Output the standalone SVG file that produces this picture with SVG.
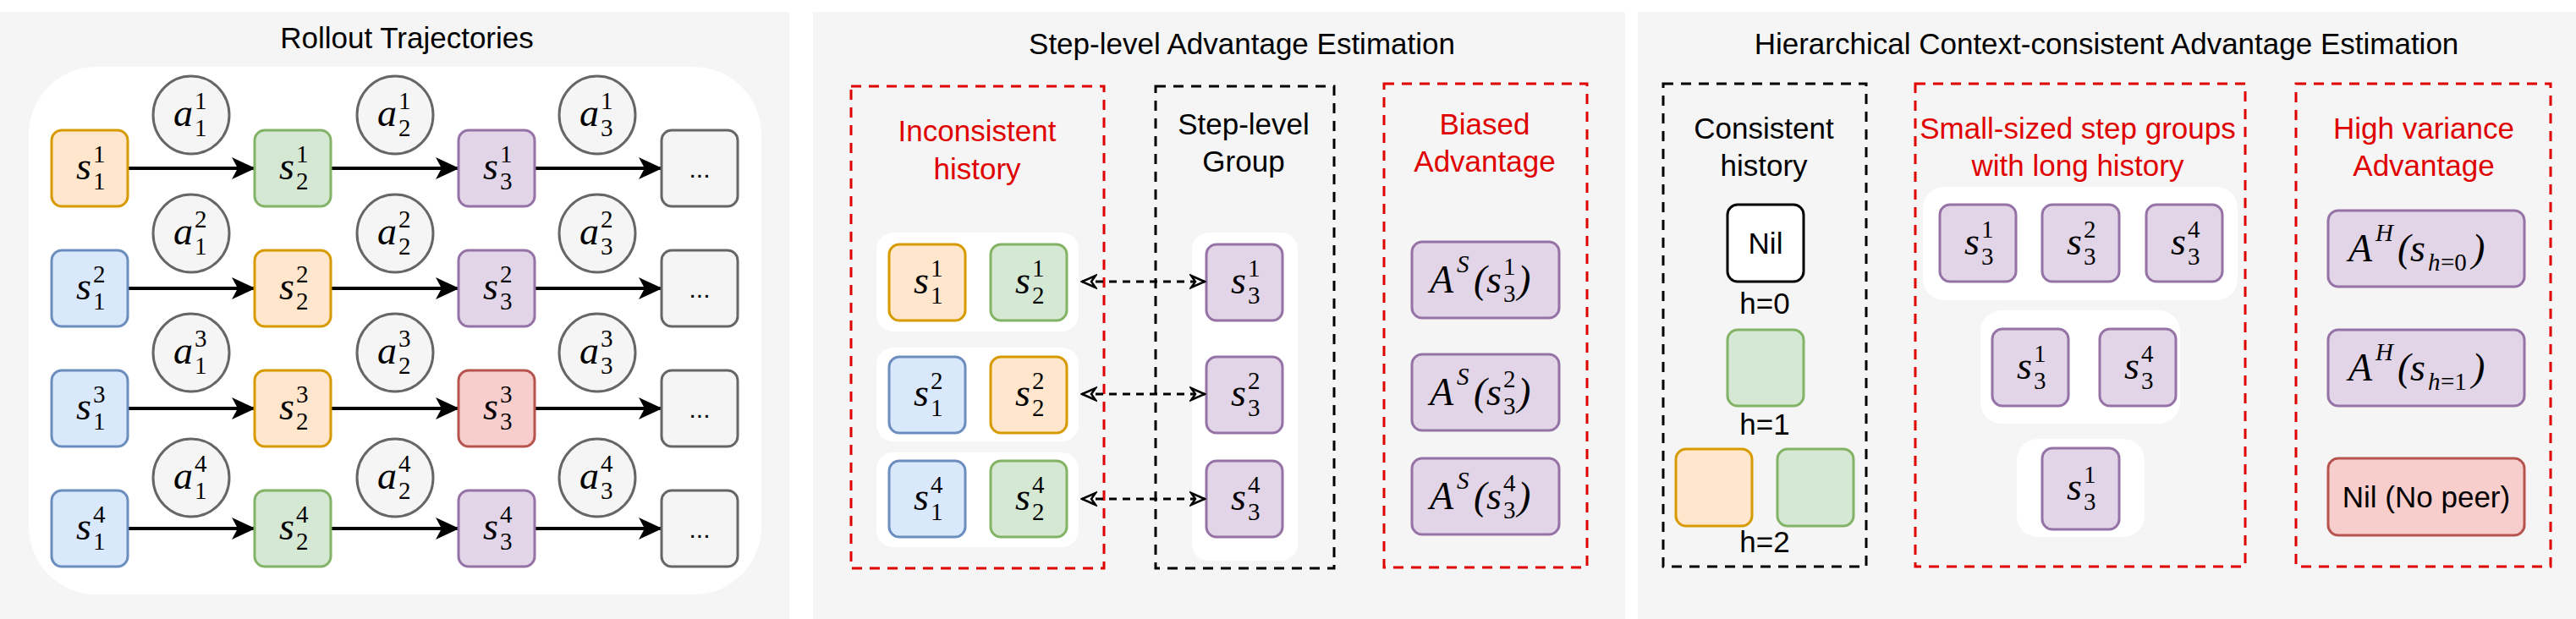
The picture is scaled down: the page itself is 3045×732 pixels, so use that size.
<svg xmlns="http://www.w3.org/2000/svg" width="3045" height="732" viewBox="0 0 3045 732">
<style>
.panel{fill:#f5f5f5}
.t{font-family:"Liberation Sans",Arial,sans-serif;font-size:35px;fill:#000;text-anchor:middle}
.r{fill:#e00000}
.m{font-family:"Liberation Serif","DejaVu Serif",serif;font-style:italic;font-size:46px;fill:#000}
.sc{font-family:"Liberation Serif","DejaVu Serif",serif;font-size:29px;fill:#000}
.b{stroke-width:3;rx:12}
.or{fill:#ffe6cc;stroke:#d79b00}.gr{fill:#d5e8d4;stroke:#82b366}.bl{fill:#dae8fc;stroke:#6c8ebf}
.pu{fill:#e1d5e7;stroke:#9673a6}.rd{fill:#f8cecc;stroke:#b85450}.gy{fill:#f5f5f5;stroke:#666}
.wh{fill:#fff}
.dr{fill:none;stroke:#e00000;stroke-width:3;stroke-dasharray:12 9}
.dk{fill:none;stroke:#000;stroke-width:3;stroke-dasharray:12 9}
.arr{stroke:#000;stroke-width:4;fill:none}
.da{stroke:#000;stroke-width:3;fill:none;stroke-dasharray:9 7}
</style>
<defs>
<marker id="ah" viewBox="0 0 28 28" refX="27" refY="14" markerWidth="28" markerHeight="28" markerUnits="userSpaceOnUse" orient="auto">
<path d="M0,1 L28,14 L0,27 L7,14 Z" fill="#000"/>
</marker>
<marker id="oa" viewBox="0 0 20 20" refX="18" refY="10" markerWidth="20" markerHeight="20" markerUnits="userSpaceOnUse" orient="auto-start-reverse">
<path d="M2,3 L18,10 L2,17 L7,10 Z" fill="#fff" stroke="#000" stroke-width="2.5"/>
</marker>
</defs>
<rect class="panel" x="0" y="14" width="933" height="718"/>
<rect class="panel" x="961" y="14" width="960" height="718"/>
<rect class="panel" x="1936" y="14" width="1109" height="718"/>
<text class="t" x="481" y="57">Rollout Trajectories</text>
<text class="t" x="1468" y="64">Step-level Advantage Estimation</text>
<text class="t" x="2490" y="64">Hierarchical Context-consistent Advantage Estimation</text>
<rect x="34" y="79" width="866" height="624" rx="80" fill="#fff"/>
<g id="connectors">
<line class="arr" x1="151" y1="199" x2="301" y2="199" marker-end="url(#ah)"/>
<line class="arr" x1="391" y1="199" x2="542" y2="199" marker-end="url(#ah)"/>
<line class="arr" x1="631" y1="199" x2="782" y2="199" marker-end="url(#ah)"/>
<line class="arr" x1="151" y1="341" x2="301" y2="341" marker-end="url(#ah)"/>
<line class="arr" x1="391" y1="341" x2="542" y2="341" marker-end="url(#ah)"/>
<line class="arr" x1="631" y1="341" x2="782" y2="341" marker-end="url(#ah)"/>
<line class="arr" x1="151" y1="483" x2="301" y2="483" marker-end="url(#ah)"/>
<line class="arr" x1="391" y1="483" x2="542" y2="483" marker-end="url(#ah)"/>
<line class="arr" x1="631" y1="483" x2="782" y2="483" marker-end="url(#ah)"/>
<line class="arr" x1="151" y1="625" x2="301" y2="625" marker-end="url(#ah)"/>
<line class="arr" x1="391" y1="625" x2="542" y2="625" marker-end="url(#ah)"/>
<line class="arr" x1="631" y1="625" x2="782" y2="625" marker-end="url(#ah)"/>
</g>
<!-- panel 1 states -->
<g id="s11r1"><rect class="b or" x="61" y="154" width="90" height="90"/><text class="m" x="108" y="212" text-anchor="end">s</text><text class="sc" x="110" y="192">1</text><text class="sc" x="110" y="224">1</text></g>
<g id="s12r1"><rect class="b gr" x="301" y="154" width="90" height="90"/><text class="m" x="348" y="212" text-anchor="end">s</text><text class="sc" x="350" y="192">1</text><text class="sc" x="350" y="224">2</text></g>
<g id="s13r1"><rect class="b pu" x="542" y="154" width="90" height="90"/><text class="m" x="589" y="212" text-anchor="end">s</text><text class="sc" x="591" y="192">1</text><text class="sc" x="591" y="224">3</text></g>
<g id="d1"><rect class="b gy" x="782" y="154" width="90" height="90"/><text class="t" x="827" y="210" style="font-size:30px">...</text></g>
<g id="s21r2"><rect class="b bl" x="61" y="296" width="90" height="90"/><text class="m" x="108" y="354" text-anchor="end">s</text><text class="sc" x="110" y="334">2</text><text class="sc" x="110" y="366">1</text></g>
<g id="s22r2"><rect class="b or" x="301" y="296" width="90" height="90"/><text class="m" x="348" y="354" text-anchor="end">s</text><text class="sc" x="350" y="334">2</text><text class="sc" x="350" y="366">2</text></g>
<g id="s23r2"><rect class="b pu" x="542" y="296" width="90" height="90"/><text class="m" x="589" y="354" text-anchor="end">s</text><text class="sc" x="591" y="334">2</text><text class="sc" x="591" y="366">3</text></g>
<g id="d2"><rect class="b gy" x="782" y="296" width="90" height="90"/><text class="t" x="827" y="352" style="font-size:30px">...</text></g>
<g id="s31r3"><rect class="b bl" x="61" y="438" width="90" height="90"/><text class="m" x="108" y="496" text-anchor="end">s</text><text class="sc" x="110" y="476">3</text><text class="sc" x="110" y="508">1</text></g>
<g id="s32r3"><rect class="b or" x="301" y="438" width="90" height="90"/><text class="m" x="348" y="496" text-anchor="end">s</text><text class="sc" x="350" y="476">3</text><text class="sc" x="350" y="508">2</text></g>
<g id="s33r3"><rect class="b rd" x="542" y="438" width="90" height="90"/><text class="m" x="589" y="496" text-anchor="end">s</text><text class="sc" x="591" y="476">3</text><text class="sc" x="591" y="508">3</text></g>
<g id="d3"><rect class="b gy" x="782" y="438" width="90" height="90"/><text class="t" x="827" y="494" style="font-size:30px">...</text></g>
<g id="s41r4"><rect class="b bl" x="61" y="580" width="90" height="90"/><text class="m" x="108" y="638" text-anchor="end">s</text><text class="sc" x="110" y="618">4</text><text class="sc" x="110" y="650">1</text></g>
<g id="s42r4"><rect class="b gr" x="301" y="580" width="90" height="90"/><text class="m" x="348" y="638" text-anchor="end">s</text><text class="sc" x="350" y="618">4</text><text class="sc" x="350" y="650">2</text></g>
<g id="s43r4"><rect class="b pu" x="542" y="580" width="90" height="90"/><text class="m" x="589" y="638" text-anchor="end">s</text><text class="sc" x="591" y="618">4</text><text class="sc" x="591" y="650">3</text></g>
<g id="d4"><rect class="b gy" x="782" y="580" width="90" height="90"/><text class="t" x="827" y="636" style="font-size:30px">...</text></g>
<!-- actions -->
<g id="a11"><ellipse cx="226" cy="136" rx="45" ry="46" fill="#f5f5f5" stroke="#666" stroke-width="3"/><text class="m" x="228" y="149" text-anchor="end">a</text><text class="sc" x="230" y="129">1</text><text class="sc" x="230" y="161">1</text></g>
<g id="a21"><ellipse cx="467" cy="136" rx="45" ry="46" fill="#f5f5f5" stroke="#666" stroke-width="3"/><text class="m" x="469" y="149" text-anchor="end">a</text><text class="sc" x="471" y="129">1</text><text class="sc" x="471" y="161">2</text></g>
<g id="a31"><ellipse cx="706" cy="136" rx="45" ry="46" fill="#f5f5f5" stroke="#666" stroke-width="3"/><text class="m" x="708" y="149" text-anchor="end">a</text><text class="sc" x="710" y="129">1</text><text class="sc" x="710" y="161">3</text></g>
<g id="a12"><ellipse cx="226" cy="276" rx="45" ry="46" fill="#f5f5f5" stroke="#666" stroke-width="3"/><text class="m" x="228" y="289" text-anchor="end">a</text><text class="sc" x="230" y="269">2</text><text class="sc" x="230" y="301">1</text></g>
<g id="a22"><ellipse cx="467" cy="276" rx="45" ry="46" fill="#f5f5f5" stroke="#666" stroke-width="3"/><text class="m" x="469" y="289" text-anchor="end">a</text><text class="sc" x="471" y="269">2</text><text class="sc" x="471" y="301">2</text></g>
<g id="a32"><ellipse cx="706" cy="276" rx="45" ry="46" fill="#f5f5f5" stroke="#666" stroke-width="3"/><text class="m" x="708" y="289" text-anchor="end">a</text><text class="sc" x="710" y="269">2</text><text class="sc" x="710" y="301">3</text></g>
<g id="a13"><ellipse cx="226" cy="417" rx="45" ry="46" fill="#f5f5f5" stroke="#666" stroke-width="3"/><text class="m" x="228" y="430" text-anchor="end">a</text><text class="sc" x="230" y="410">3</text><text class="sc" x="230" y="442">1</text></g>
<g id="a23"><ellipse cx="467" cy="417" rx="45" ry="46" fill="#f5f5f5" stroke="#666" stroke-width="3"/><text class="m" x="469" y="430" text-anchor="end">a</text><text class="sc" x="471" y="410">3</text><text class="sc" x="471" y="442">2</text></g>
<g id="a33"><ellipse cx="706" cy="417" rx="45" ry="46" fill="#f5f5f5" stroke="#666" stroke-width="3"/><text class="m" x="708" y="430" text-anchor="end">a</text><text class="sc" x="710" y="410">3</text><text class="sc" x="710" y="442">3</text></g>
<g id="a14"><ellipse cx="226" cy="565" rx="45" ry="46" fill="#f5f5f5" stroke="#666" stroke-width="3"/><text class="m" x="228" y="578" text-anchor="end">a</text><text class="sc" x="230" y="558">4</text><text class="sc" x="230" y="590">1</text></g>
<g id="a24"><ellipse cx="467" cy="565" rx="45" ry="46" fill="#f5f5f5" stroke="#666" stroke-width="3"/><text class="m" x="469" y="578" text-anchor="end">a</text><text class="sc" x="471" y="558">4</text><text class="sc" x="471" y="590">2</text></g>
<g id="a34"><ellipse cx="706" cy="565" rx="45" ry="46" fill="#f5f5f5" stroke="#666" stroke-width="3"/><text class="m" x="708" y="578" text-anchor="end">a</text><text class="sc" x="710" y="558">4</text><text class="sc" x="710" y="590">3</text></g>

<!-- panel 2 -->
<g id="inconsistent">
<rect class="wh" x="1036" y="275" width="239" height="117" rx="20"/>
<rect class="wh" x="1036" y="411" width="239" height="111" rx="20"/>
<rect class="wh" x="1036" y="535" width="239" height="112" rx="20"/>
<rect class="dr" x="1006" y="102" width="299" height="570"/>
<text class="t r" x="1155" y="167">Inconsistent</text>
<text class="t r" x="1155" y="212">history</text>
</g>
<g id="p2s11"><rect class="b or" x="1051" y="289" width="90" height="90"/><text class="m" x="1098" y="347" text-anchor="end">s</text><text class="sc" x="1100" y="327">1</text><text class="sc" x="1100" y="359">1</text></g>
<g id="p2s12"><rect class="b gr" x="1171" y="289" width="90" height="90"/><text class="m" x="1218" y="347" text-anchor="end">s</text><text class="sc" x="1220" y="327">1</text><text class="sc" x="1220" y="359">2</text></g>
<g id="p2s21"><rect class="b bl" x="1051" y="422" width="90" height="90"/><text class="m" x="1098" y="480" text-anchor="end">s</text><text class="sc" x="1100" y="460">2</text><text class="sc" x="1100" y="492">1</text></g>
<g id="p2s22"><rect class="b or" x="1171" y="422" width="90" height="90"/><text class="m" x="1218" y="480" text-anchor="end">s</text><text class="sc" x="1220" y="460">2</text><text class="sc" x="1220" y="492">2</text></g>
<g id="p2s41"><rect class="b bl" x="1051" y="545" width="90" height="90"/><text class="m" x="1098" y="603" text-anchor="end">s</text><text class="sc" x="1100" y="583">4</text><text class="sc" x="1100" y="615">1</text></g>
<g id="p2s42"><rect class="b gr" x="1171" y="545" width="90" height="90"/><text class="m" x="1218" y="603" text-anchor="end">s</text><text class="sc" x="1220" y="583">4</text><text class="sc" x="1220" y="615">2</text></g>
<g id="steplevel">
<rect class="wh" x="1409" y="275" width="125" height="388" rx="20"/>
<rect class="dk" x="1366" y="102" width="211" height="570"/>
<text class="t" x="1470" y="159">Step-level</text>
<text class="t" x="1470" y="203">Group</text>
</g>
<g id="p2s31"><rect class="b pu" x="1426" y="289" width="90" height="90"/><text class="m" x="1473" y="347" text-anchor="end">s</text><text class="sc" x="1475" y="327">1</text><text class="sc" x="1475" y="359">3</text></g>
<g id="p2s32"><rect class="b pu" x="1426" y="422" width="90" height="90"/><text class="m" x="1473" y="480" text-anchor="end">s</text><text class="sc" x="1475" y="460">2</text><text class="sc" x="1475" y="492">3</text></g>
<g id="p2s34"><rect class="b pu" x="1426" y="545" width="90" height="90"/><text class="m" x="1473" y="603" text-anchor="end">s</text><text class="sc" x="1475" y="583">4</text><text class="sc" x="1475" y="615">3</text></g>
<g id="connectors2">
<line class="da" x1="1279" y1="333" x2="1424" y2="333" marker-start="url(#oa)" marker-end="url(#oa)"/>
<line class="da" x1="1279" y1="466" x2="1424" y2="466" marker-start="url(#oa)" marker-end="url(#oa)"/>
<line class="da" x1="1279" y1="590" x2="1424" y2="590" marker-start="url(#oa)" marker-end="url(#oa)"/>
</g>
<g id="biased">
<rect class="dr" x="1636" y="99" width="240" height="572"/>
<text class="t r" x="1755" y="159">Biased</text>
<text class="t r" x="1755" y="203">Advantage</text>
</g>
<g id="as1"><rect class="b pu" x="1669" y="286" width="174" height="90"/><text class="m" x="1690" y="346">A</text><text class="sc" x="1722" y="322" font-style="italic">S</text><text class="m" x="1742" y="346" font-style="normal">(</text><text class="m" x="1757" y="346">s</text><text class="sc" x="1777" y="325">1</text><text class="sc" x="1777" y="357">3</text><text class="m" x="1794" y="346" font-style="normal">)</text></g>
<g id="as2"><rect class="b pu" x="1669" y="419" width="174" height="90"/><text class="m" x="1690" y="479">A</text><text class="sc" x="1722" y="455" font-style="italic">S</text><text class="m" x="1742" y="479" font-style="normal">(</text><text class="m" x="1757" y="479">s</text><text class="sc" x="1777" y="458">2</text><text class="sc" x="1777" y="490">3</text><text class="m" x="1794" y="479" font-style="normal">)</text></g>
<g id="as4"><rect class="b pu" x="1669" y="542" width="174" height="90"/><text class="m" x="1690" y="602">A</text><text class="sc" x="1722" y="578" font-style="italic">S</text><text class="m" x="1742" y="602" font-style="normal">(</text><text class="m" x="1757" y="602">s</text><text class="sc" x="1777" y="581">4</text><text class="sc" x="1777" y="613">3</text><text class="m" x="1794" y="602" font-style="normal">)</text></g>

<!-- panel 3 -->
<g id="consistent">
<rect class="dk" x="1966" y="99" width="240" height="571"/>
<text class="t" x="2085" y="164">Consistent</text>
<text class="t" x="2085" y="208">history</text>
<text class="t" x="2086" y="371">h=0</text>
<text class="t" x="2086" y="514">h=1</text>
<text class="t" x="2086" y="653">h=2</text>
</g>
<g id="nil"><rect class="b" x="2042" y="242" width="90" height="91" fill="#fff" stroke="#000"/><text class="t" x="2087" y="300">Nil</text></g>
<g id="h1g"><rect class="b gr" x="2042" y="390" width="90" height="90"/></g>
<g id="h2o"><rect class="b or" x="1981" y="531" width="90" height="91"/></g>
<g id="h2g"><rect class="b gr" x="2101" y="531" width="90" height="91"/></g>
<g id="smallgroups">
<rect class="wh" x="2273" y="221" width="372" height="134" rx="25"/>
<rect class="wh" x="2341" y="367" width="236" height="134" rx="25"/>
<rect class="wh" x="2384" y="519" width="151" height="116" rx="25"/>
<rect class="dr" x="2264" y="99" width="390" height="571"/>
<text class="t r" x="2456" y="164">Small-sized step groups</text>
<text class="t r" x="2456" y="208">with long history</text>
</g>
<g id="g1a"><rect class="b pu" x="2293" y="242" width="90" height="91"/><text class="m" x="2340" y="301" text-anchor="end">s</text><text class="sc" x="2342" y="281">1</text><text class="sc" x="2342" y="313">3</text></g>
<g id="g1b"><rect class="b pu" x="2414" y="242" width="91" height="91"/><text class="m" x="2461" y="301" text-anchor="end">s</text><text class="sc" x="2463" y="281">2</text><text class="sc" x="2463" y="313">3</text></g>
<g id="g1c"><rect class="b pu" x="2537" y="242" width="90" height="91"/><text class="m" x="2584" y="301" text-anchor="end">s</text><text class="sc" x="2586" y="281">4</text><text class="sc" x="2586" y="313">3</text></g>
<g id="g2a"><rect class="b pu" x="2355" y="389" width="90" height="91"/><text class="m" x="2402" y="448" text-anchor="end">s</text><text class="sc" x="2404" y="428">1</text><text class="sc" x="2404" y="460">3</text></g>
<g id="g2b"><rect class="b pu" x="2482" y="389" width="90" height="91"/><text class="m" x="2529" y="448" text-anchor="end">s</text><text class="sc" x="2531" y="428">4</text><text class="sc" x="2531" y="460">3</text></g>
<g id="g3a"><rect class="b pu" x="2414" y="530" width="91" height="96"/><text class="m" x="2461" y="591" text-anchor="end">s</text><text class="sc" x="2463" y="571">1</text><text class="sc" x="2463" y="603">3</text></g>
<g id="highvar">
<rect class="dr" x="2714" y="99" width="301" height="571"/>
<text class="t r" x="2865" y="164">High variance</text>
<text class="t r" x="2865" y="208">Advantage</text>
</g>
<g id="ah0"><rect class="b pu" x="2752" y="249" width="232" height="90"/><text class="m" x="2776" y="309">A</text><text class="sc" x="2808" y="285" font-style="italic">H</text><text class="m" x="2834" y="309" font-style="normal">(</text><text class="m" x="2849" y="309">s</text><text class="sc" x="2870" y="320" font-style="italic">h</text><text class="sc" x="2885" y="320">=0</text><text class="m" x="2922" y="309" font-style="normal">)</text></g>
<g id="ah1"><rect class="b pu" x="2752" y="390" width="232" height="90"/><text class="m" x="2776" y="450">A</text><text class="sc" x="2808" y="426" font-style="italic">H</text><text class="m" x="2834" y="450" font-style="normal">(</text><text class="m" x="2849" y="450">s</text><text class="sc" x="2870" y="461" font-style="italic">h</text><text class="sc" x="2885" y="461">=1</text><text class="m" x="2922" y="450" font-style="normal">)</text></g>
<g id="nilpeer"><rect class="b rd" x="2752" y="542" width="232" height="91"/><text class="t" x="2868" y="600">Nil (No peer)</text></g>
</svg>
